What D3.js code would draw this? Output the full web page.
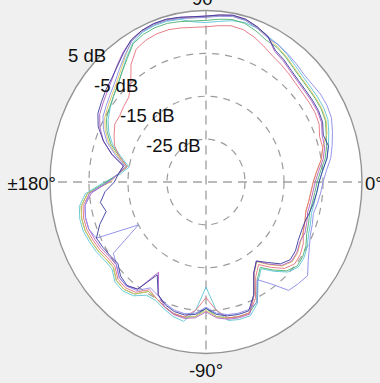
<!DOCTYPE html>
<html>
<head>
<meta charset="utf-8">
<script src="https://cdn.jsdelivr.net/npm/d3@7"></script>
<style>
  html, body { margin: 0; padding: 0; background: #f0f0f0; }
  svg { display: block; }
  text { font-family: Arial, "Liberation Sans", sans-serif; fill: #111; }
</style>
</head>
<body>
<svg id="chart" width="380" height="383"></svg>
<script>
// Radial (dB) rings and angle labels
const ringValues = [-25, -15, -5];
const ringLabels = ["5 dB", "-5 dB", "-15 dB", "-25 dB"];
const angleLabels = ["0°", "90°", "±180°", "-90°"];

// Gain patterns in dB, sampled every 5° counter-clockwise from 0°
const seriesNavy = [-6,-5,-3.5,-2.5,-3,-2,-1.7,-1.7,-1.7,-1.5,-1,-0.2,0.5,2.5,3.5,4.3,4.5,4.1,3.7,3.7,4,4.3,4.3,4,3.3,1.8,0.3,-0.8,-1.5,-2.3,-3,-4.5,-7,-10,-13.5,-12.5,-11.5,-9,-7.5,-8.5,-6,-4,-4.5,-5,-5.5,-4,-3.5,-4.5,-10,-6,-4.5,-3.7,-3.5,-4,-5.5,-4,-3.3,-3,-3,-6,-10.5,-12.5,-10.5,-8,-6.8,-7,-7.7,-8,-8,-7.5,-7,-6.5];
const seriesRed = [-7.5,-6.5,-5,-4,-4,-3,-2.7,-2.7,-2.7,-2.5,-2,-1.5,-1,0,1,1.8,2,1.6,1.2,1.2,1.5,1.8,1.8,1.5,0.8,-1.5,-5,-7,-7.5,-8,-8,-9,-10,-12,-14.5,-12.5,-10,-5,-3,-2.5,-2.5,-3,-3.5,-4.2,-4.5,-3,-2.8,-3.6,-6,-5,-4,-3.2,-3,-5,-8,-5,-2.8,-2.5,-2.5,-5,-9.5,-11.5,-9,-6.5,-5.3,-5.5,-6.2,-7.5,-8,-8.5,-8.3,-8];
const seriesYellow = [-7.5,-6.5,-5,-4,-2,-1,-0.7,-0.7,-0.7,-0.5,0,0.8,1.5,2.3,3.3,4.1,4.3,3.9,3.5,3.5,3.8,4.1,4.1,3.8,3.1,1,-1,-2.5,-3.5,-4.3,-5,-6.5,-8.5,-11.5,-14,-12.5,-10.5,-4.5,-2.5,-2,-2,-2.5,-3,-3.7,-4,-2.5,-2.3,-3.1,-5.5,-5,-4,-3.2,-3,-3.5,-5,-3.5,-2.8,-2.5,-2.5,-5.8,-10.3,-12.3,-9.8,-7.3,-6.1,-6.3,-7,-7.5,-8,-8.5,-8.3,-8];
const seriesPurple = [-7,-6,-4.5,-3.5,-3.3,-2.3,-2,-2,-2,-1.8,-1.3,-0.5,0.2,2.5,3.5,4.3,4.5,4.1,3.7,3.7,4,4.3,4.3,4,3.3,2,0.5,-1,-2,-2.8,-3.5,-5,-7,-10,-13.5,-12.5,-10,-5.5,-3.5,-3,-3,-3.5,-4,-4.7,-5,-3.5,-3.3,-4.5,-10.7,-6,-4,-3,-2.7,-3.2,-4.7,-3.2,-2.5,-2.2,-2.2,-6,-10.5,-12.5,-10,-7.5,-6.3,-6.5,-7.2,-7,-7.5,-8,-7.8,-7.5];
const seriesGreen = [-6.5,-5.5,-4,-3,-2.2,-1.2,-0.9,-0.9,-0.9,-0.7,-0.2,0.6,1.3,1.5,2.5,3.3,3.5,3.1,2.7,2.7,3,3.3,3.3,3,2.3,0.2,-1.5,-3,-4,-4.8,-5.5,-7,-9,-12,-14.5,-12.5,-9.5,-4.5,-2.5,-2,-2,-2.5,-3,-3.7,-4,-2.5,-2.3,-3.1,-5.5,-5,-4,-3.2,-3,-3.5,-5.5,-3.5,-2.8,-2.5,-2.5,-4.2,-8.7,-10.7,-8.2,-5.7,-4.5,-4.7,-5.4,-6.5,-7,-7.5,-7.3,-7];
const seriesCyan = [-6,-5,-3.5,-2.5,-1.5,-0.5,-0.2,-0.2,-0.2,0,0.5,1.3,2,2.5,3.2,3.5,3.2,2.6,2.2,2.5,3.5,3.8,3.8,3.5,2.5,0.5,-1.5,-3,-4,-5,-6,-7.5,-9.5,-12.5,-15,-13,-9,-4,-2,-1.5,-1.5,-2,-2.5,-3.2,-3.5,-2,-1.8,-2.6,-4.5,-4.5,-3.5,-2.5,-2,-5,-10.5,-5,-2.2,-1.8,-1.8,-3.8,-8.3,-10.3,-7.8,-5.3,-4.1,-4.3,-5,-6,-6.5,-7,-6.8,-6.5];
const seriesLavender = [-5,-4,-2.5,-1.5,-0.5,0.5,0.8,0.8,0.5,0.5,1,1.5,2,2.2,3.2,4,4.2,3.8,3.4,3.4,3.7,4,4,3.7,3,1.2,-0.5,-2,-3,-3.8,-4.5,-6,-8,-11,-14,-12.5,-10,-5,-3.5,-3,-3,-4,-15,-6,-5,-3.5,-3.3,-4.1,-6.5,-5.8,-4.8,-4,-3.8,-4.3,-5.8,-4.3,-3.6,-3.3,-3.3,-4,-8.7,-6,-2,-1.5,-1,-3,-4.4,-5.5,-6,-6.5,-6,-5.5];

const series = [
  { name: "cyan",     color: "#5cc6d6", values: seriesCyan },
  { name: "green",    color: "#4fae6e", values: seriesGreen },
  { name: "yellow",   color: "#dcc45a", values: seriesYellow },
  { name: "red",      color: "#e6707c", values: seriesRed },
  { name: "purple",   color: "#ae5ec0", values: seriesPurple },
  { name: "lavender", color: "#8a8aea", values: seriesLavender },
  { name: "navy",     color: "#3a3a9e", values: seriesNavy }
];

const svg = d3.select("#chart");
const cx = 206, cy = 182, RX = 156, RY = 171.5;
const rMin = -35, rMax = 5;

// the plot is drawn on an ellipse: separate radial scales for x and y
const sx = d3.scaleLinear().domain([rMin, rMax]).range([0, RX]);
const sy = d3.scaleLinear().domain([rMin, rMax]).range([0, RY]);
const angles = d3.range(0, 360, 5);

const px = (deg, v) => cx + sx(Math.max(v, rMin)) * Math.cos(deg * Math.PI / 180);
const py = (deg, v) => cy - sy(Math.max(v, rMin)) * Math.sin(deg * Math.PI / 180);

// plot area
svg.append("ellipse")
  .attr("cx", cx).attr("cy", cy)
  .attr("rx", sx(rMax)).attr("ry", sy(rMax))
  .attr("fill", "#ffffff")
  .attr("stroke", "#949494")
  .attr("stroke-width", 1.4);

// dashed rings
svg.selectAll("ellipse.ring").data(ringValues).join("ellipse")
  .attr("class", "ring")
  .attr("cx", cx).attr("cy", cy)
  .attr("rx", d => sx(d)).attr("ry", d => sy(d))
  .attr("fill", "none")
  .attr("stroke", "#9c9c9c")
  .attr("stroke-width", 1.2)
  .attr("stroke-dasharray", "7,6");

// dashed axes
svg.append("line")
  .attr("x1", 58).attr("x2", cx + sx(rMax))
  .attr("y1", cy).attr("y2", cy)
  .attr("stroke", "#a4a4a4").attr("stroke-width", 1.4)
  .attr("stroke-dasharray", "9,6");
svg.append("line")
  .attr("x1", cx).attr("x2", cx)
  .attr("y1", cy - sy(rMax)).attr("y2", cy + sy(rMax))
  .attr("stroke", "#a4a4a4").attr("stroke-width", 1.4)
  .attr("stroke-dasharray", "9,6");

// pattern traces
const line = d3.line()
  .x(d => px(d[0], d[1]))
  .y(d => py(d[0], d[1]))
  .curve(d3.curveLinearClosed);

svg.append("g").selectAll("path").data(series).join("path")
  .attr("d", s => line(angles.map((a, i) => [a, s.values[i]])))
  .attr("fill", "none")
  .attr("stroke", s => s.color)
  .attr("stroke-width", 1)
  .attr("stroke-linejoin", "round")
  .attr("opacity", 0.9);

// ring labels
svg.selectAll("text.rl").data(ringLabels).join("text")
  .attr("class", "rl")
  .attr("x", (d, i) => 68 + 26 * i)
  .attr("y", (d, i) => 62 + 30 * i)
  .attr("font-size", 18.5)
  .text(d => d);

// angle labels
svg.append("text").attr("x", 365).attr("y", 190).attr("font-size", 18.5).text(angleLabels[0]);
svg.append("text").attr("x", cx).attr("y", 5).attr("text-anchor", "middle").attr("font-size", 18.5).text(angleLabels[1]);
svg.append("text").attr("x", 56).attr("y", 190).attr("text-anchor", "end").attr("font-size", 18.5).text(angleLabels[2]);
svg.append("text").attr("x", cx).attr("y", 377).attr("text-anchor", "middle").attr("font-size", 18.5).text(angleLabels[3]);
</script>
</body>
</html>
